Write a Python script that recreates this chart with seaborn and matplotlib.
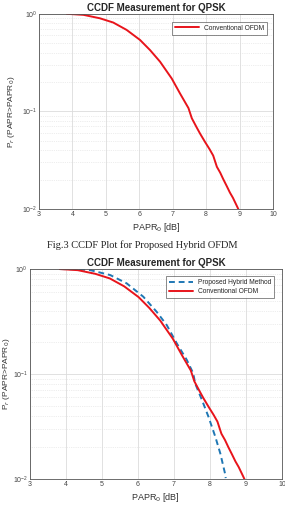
import numpy as np
import pandas as pd
import matplotlib
matplotlib.use("Agg")
import matplotlib.pyplot as plt
import seaborn as sns

# CCDF curves
papr_conv = [3.83, 4.33, 4.82, 5.22, 5.62, 6.02, 6.32, 6.62, 6.97, 7.22, 7.47,
             7.57, 7.72, 7.82, 7.97, 8.10, 8.21, 8.32, 8.42, 8.51, 8.62, 8.71,
             8.80, 8.93, 8.97]
ccdf_conv = [1.0, 0.976, 0.90, 0.814, 0.684, 0.54, 0.425, 0.323, 0.217, 0.152,
             0.108, 0.0850, 0.068, 0.0589, 0.0483, 0.041, 0.0352, 0.0270,
             0.0235, 0.0202, 0.0170, 0.0147, 0.0130, 0.0105, 0.0098]

papr_hyb = [3.83, 4.30, 4.67, 5.23, 5.69, 6.15, 6.52, 6.80, 7.08, 7.36, 7.54,
            7.59, 7.78, 7.96, 8.15, 8.29, 8.42, 8.44]
ccdf_hyb = [1.0, 0.995, 0.978, 0.877, 0.73, 0.545, 0.392, 0.293, 0.196, 0.136,
            0.101, 0.0815, 0.0565, 0.0392, 0.0253, 0.0175, 0.0113, 0.0102]

title = "CCDF Measurement for QPSK"
caption = "Fig.3 CCDF Plot for Proposed Hybrid OFDM"
x_ticks = [3, 4, 5, 6, 7, 8, 9, 10]

sns.set_style("white")
plt.rcParams["font.family"] = ["Liberation Sans", "DejaVu Sans"]

RED = "#e8141b"
BLUE = "#1f77b4"

fig = plt.figure(figsize=(2.85, 5.12), dpi=100)
ax1 = fig.add_axes([0.137, 0.592, 0.821, 0.381])
ax2 = fig.add_axes([0.105, 0.0645, 0.884, 0.410])

conv = pd.DataFrame({"papr": papr_conv, "ccdf": ccdf_conv})
hyb = pd.DataFrame({"papr": papr_hyb, "ccdf": ccdf_hyb})


def style_axes(ax, ylab_x):
    ax.set_yscale("log")
    ax.set_xlim(3, 10)
    ax.set_ylim(0.01, 1)
    ax.set_xticks(x_ticks)
    ax.set_xticklabels([str(t) for t in x_ticks])
    ax.grid(True, which="major", color="#dcdcdc", linewidth=0.6)
    ax.grid(True, which="minor", axis="y", color="#dcdcdc", linewidth=0.5,
            linestyle=":")
    ax.tick_params(axis="both", which="both", direction="in", labelsize=5.0,
                   colors="#444444", length=2, width=0.5, pad=1.5)
    ax.tick_params(axis="y", which="minor", length=1.2)
    for s in ax.spines.values():
        s.set_color("#555555")
        s.set_linewidth(0.6)
    ax.set_xlabel("PAPR$_0$ [dB]", fontsize=6.5, color="#333333", labelpad=2)
    ax.set_ylabel("P$_r$ (PAPR>PAPR$_0$)", fontsize=6.0, color="#333333")
    ax.yaxis.set_label_coords(ylab_x, 0.5)
    ax.set_title(title, fontsize=7, fontweight="bold", pad=2)


# top panel
sns.lineplot(data=conv, x="papr", y="ccdf", ax=ax1, color=RED, linewidth=1.4,
             label="Conventional OFDM", sort=False)
style_axes(ax1, -0.095)
ax1.legend(loc="upper right", fontsize=4.8, frameon=True, fancybox=False,
           edgecolor="#333333", handlelength=3.5, borderpad=0.45,
           borderaxespad=0,
           bbox_to_anchor=(0.975, 0.96)).get_frame().set_linewidth(0.5)

# bottom panel
sns.lineplot(data=hyb, x="papr", y="ccdf", ax=ax2, color=BLUE, linewidth=1.4,
             linestyle=(0, (3, 2)), label="Proposed Hybrid Method", sort=False)
sns.lineplot(data=conv, x="papr", y="ccdf", ax=ax2, color=RED, linewidth=1.4,
             label="Conventional OFDM", sort=False)
style_axes(ax2, -0.07)
ax2.legend(loc="upper right", fontsize=4.8, frameon=True, fancybox=False,
           edgecolor="#333333", handlelength=3.5, borderpad=0.45,
           labelspacing=0.3, borderaxespad=0,
           bbox_to_anchor=(0.97, 0.967)).get_frame().set_linewidth(0.5)

fig.text(0.5, 1 - 245 / 512, caption, ha="center", va="center", fontsize=7.5,
         family="Liberation Serif", color="#222222")

fig.savefig("out.png", dpi=100)
